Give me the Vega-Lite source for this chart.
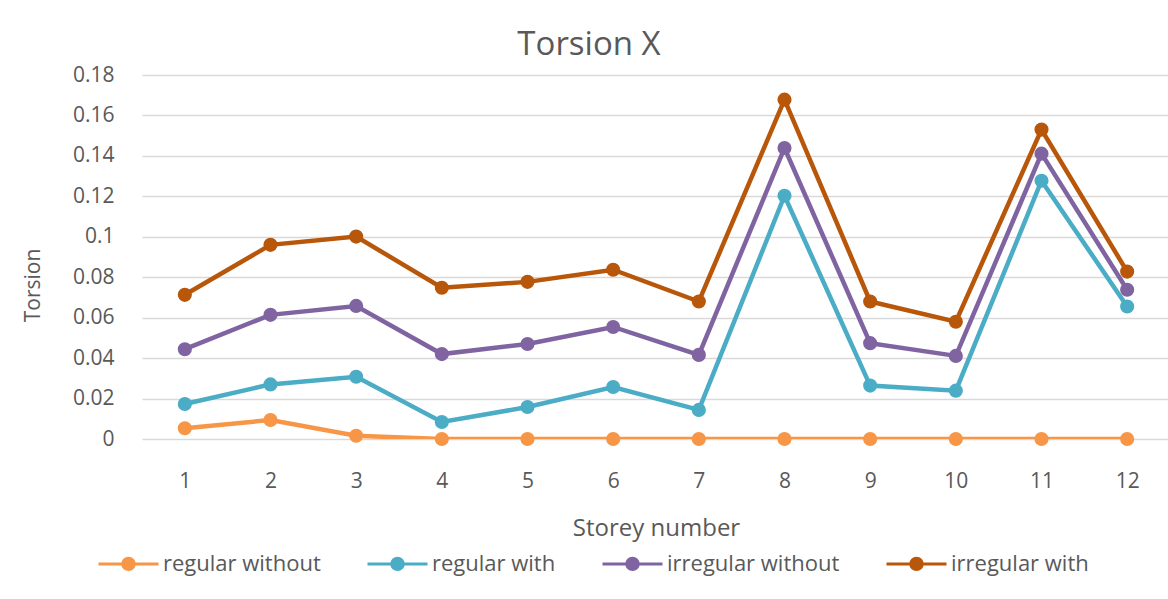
{
  "$schema": "https://vega.github.io/schema/vega-lite/v6.json",
  "width": 1028,
  "height": 364,
  "autosize": {"type": "none"},
  "padding": {"left": 142, "top": 75, "right": 0, "bottom": 160},
  "background": "white",
  "config": {
    "font": "Open Sans",
    "view": {"stroke": null},
    "axis": {"labelColor": "#595959", "titleColor": "#595959", "labelFont": "Open Sans", "titleFont": "Open Sans", "titleFontWeight": "normal"},
    "legend": {"labelFont": "Open Sans"}
  },
  "title": {
    "text": "Torsion X",
    "fontSize": 33,
    "font": "Open Sans",
    "fontWeight": "normal",
    "color": "#595959",
    "anchor": "middle",
    "dx": -67,
    "offset": 2
  },
  "data": {
    "values": [
      {"storey": 1, "series": "regular without", "torsion": 0.0053},
      {"storey": 2, "series": "regular without", "torsion": 0.0094},
      {"storey": 3, "series": "regular without", "torsion": 0.0016},
      {"storey": 4, "series": "regular without", "torsion": 0},
      {"storey": 5, "series": "regular without", "torsion": 0},
      {"storey": 6, "series": "regular without", "torsion": 0},
      {"storey": 7, "series": "regular without", "torsion": 0},
      {"storey": 8, "series": "regular without", "torsion": 0},
      {"storey": 9, "series": "regular without", "torsion": 0},
      {"storey": 10, "series": "regular without", "torsion": 0},
      {"storey": 11, "series": "regular without", "torsion": 0},
      {"storey": 12, "series": "regular without", "torsion": 0},
      {"storey": 1, "series": "regular with", "torsion": 0.0173},
      {"storey": 2, "series": "regular with", "torsion": 0.027},
      {"storey": 3, "series": "regular with", "torsion": 0.0308},
      {"storey": 4, "series": "regular with", "torsion": 0.0084},
      {"storey": 5, "series": "regular with", "torsion": 0.0158},
      {"storey": 6, "series": "regular with", "torsion": 0.0257},
      {"storey": 7, "series": "regular with", "torsion": 0.0144},
      {"storey": 8, "series": "regular with", "torsion": 0.1203},
      {"storey": 9, "series": "regular with", "torsion": 0.0264},
      {"storey": 10, "series": "regular with", "torsion": 0.0239},
      {"storey": 11, "series": "regular with", "torsion": 0.1277},
      {"storey": 12, "series": "regular with", "torsion": 0.0655},
      {"storey": 1, "series": "irregular without", "torsion": 0.0444},
      {"storey": 2, "series": "irregular without", "torsion": 0.0614},
      {"storey": 3, "series": "irregular without", "torsion": 0.0658},
      {"storey": 4, "series": "irregular without", "torsion": 0.042},
      {"storey": 5, "series": "irregular without", "torsion": 0.047},
      {"storey": 6, "series": "irregular without", "torsion": 0.0554},
      {"storey": 7, "series": "irregular without", "torsion": 0.0416},
      {"storey": 8, "series": "irregular without", "torsion": 0.1439},
      {"storey": 9, "series": "irregular without", "torsion": 0.0474},
      {"storey": 10, "series": "irregular without", "torsion": 0.0411},
      {"storey": 11, "series": "irregular without", "torsion": 0.1411},
      {"storey": 12, "series": "irregular without", "torsion": 0.0738},
      {"storey": 1, "series": "irregular with", "torsion": 0.0713},
      {"storey": 2, "series": "irregular with", "torsion": 0.096},
      {"storey": 3, "series": "irregular with", "torsion": 0.1001},
      {"storey": 4, "series": "irregular with", "torsion": 0.0748},
      {"storey": 5, "series": "irregular with", "torsion": 0.0777},
      {"storey": 6, "series": "irregular with", "torsion": 0.0837},
      {"storey": 7, "series": "irregular with", "torsion": 0.068},
      {"storey": 8, "series": "irregular with", "torsion": 0.1678},
      {"storey": 9, "series": "irregular with", "torsion": 0.068},
      {"storey": 10, "series": "irregular with", "torsion": 0.058},
      {"storey": 11, "series": "irregular with", "torsion": 0.153},
      {"storey": 12, "series": "irregular with", "torsion": 0.0828}
    ]
  },
  "encoding": {
    "x": {
      "field": "storey",
      "type": "ordinal",
      "scale": {"type": "point", "padding": 0.5},
      "axis": {
        "title": "Storey number",
        "labelAngle": 0,
        "labelFontSize": 21,
        "titleFontSize": 24,
        "labelPadding": 31,
        "titlePadding": 25,
        "ticks": false,
        "domain": false,
        "grid": false
      }
    },
    "y": {
      "field": "torsion",
      "type": "quantitative",
      "scale": {"domain": [0, 0.18], "nice": false},
      "axis": {
        "title": "Torsion",
        "values": [0, 0.02, 0.04, 0.06, 0.08, 0.1, 0.12, 0.14, 0.16, 0.18],
        "format": "~g",
        "labelFontSize": 21,
        "titleFontSize": 21,
        "labelPadding": 28,
        "ticks": false,
        "domain": false,
        "gridColor": "#d9d9d9",
        "gridWidth": 1.5,
        "titleX": -109,
        "titleY": 210,
        "titleAlign": "center",
        "titleBaseline": "middle",
        "titleAngle": -90
      }
    },
    "color": {
      "field": "series",
      "type": "nominal",
      "sort": ["regular without", "regular with", "irregular without", "irregular with"],
      "scale": {
        "domain": ["regular without", "regular with", "irregular without", "irregular with"],
        "range": ["#F79646", "#4BACC6", "#8064A2", "#B8560A"]
      },
      "legend": {
        "title": null,
        "orient": "none",
        "direction": "horizontal",
        "legendX": -45,
        "legendY": 457,
        "labelFontSize": 22,
        "labelLimit": 400,
        "labelColor": "#595959",
        "symbolType": "M-1,0L1,0M-0.19,0A0.19,0.19 0 1,1 0.19,0A0.19,0.19 0 1,1 -0.19,0Z",
        "symbolSize": 3600,
        "symbolStrokeWidth": 3,
        "columnPadding": 40,
        "labelOffset": 3,
        "symbolOpacity": 1,
        "encode": {
          "symbols": {"update": {"fill": {"scale": "color", "field": "value"}, "stroke": {"scale": "color", "field": "value"}}}
        }
      }
    }
  },
  "layer": [
    {"mark": {"type": "line", "strokeWidth": 4.5, "clip": true}},
    {"mark": {"type": "point", "filled": true, "size": 200, "opacity": 1}}
  ]
}
